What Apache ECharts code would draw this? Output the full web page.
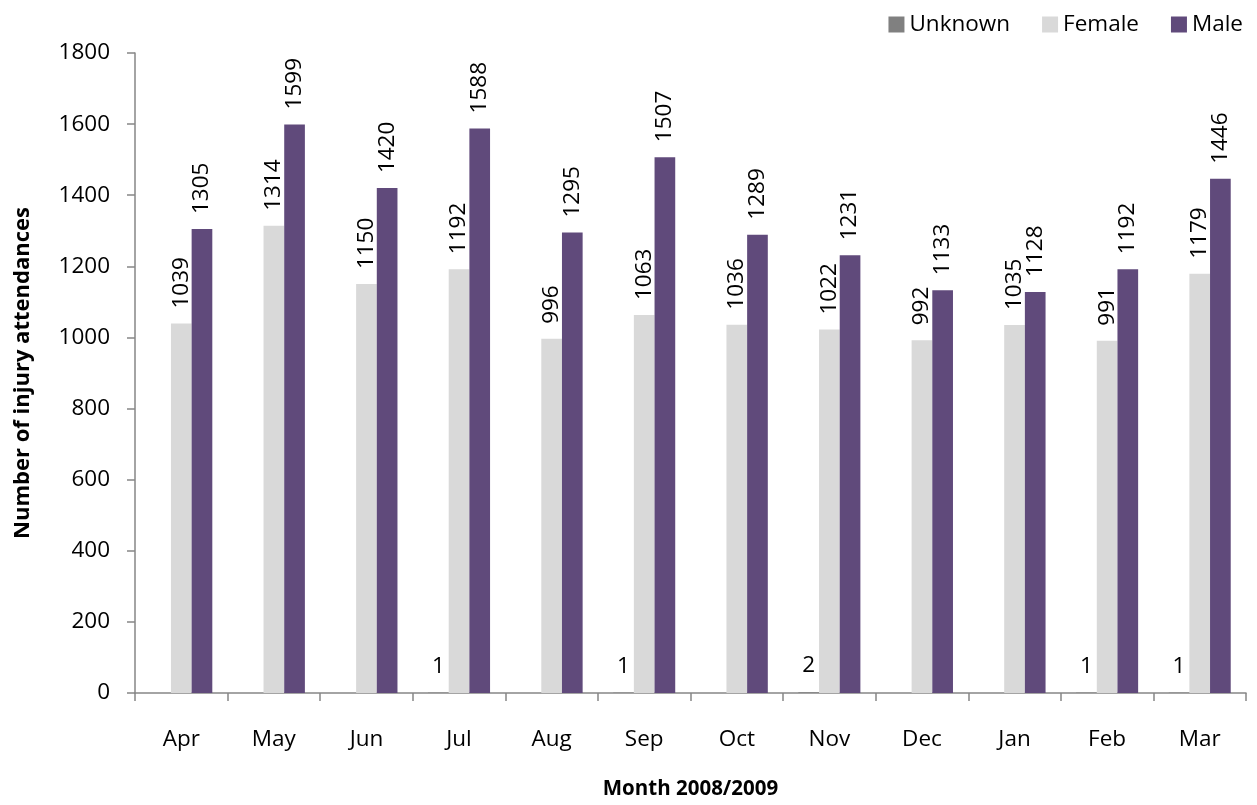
<!DOCTYPE html>
<html>
<head>
<meta charset="utf-8">
<script src="https://cdn.jsdelivr.net/npm/echarts@6/dist/echarts.min.js"></script>
<style>html,body{margin:0;padding:0;background:#fff}#c{width:1257px;height:805px}</style>
</head>
<body>
<div id="c"></div>
<script>
const months = ['Apr','May','Jun','Jul','Aug','Sep','Oct','Nov','Dec','Jan','Feb','Mar'];
const unknownVals = [null,null,null,1,null,1,null,2,null,null,1,1];
const femaleVals = [1039,1314,1150,1192,996,1063,1036,1022,992,1035,991,1179];
const maleVals = [1305,1599,1420,1588,1295,1507,1289,1231,1133,1128,1192,1446];
const yTicks = {min:0, max:1800, interval:200};

const FONT = 'Open Sans';
const FS = 22.5;
const chart = echarts.init(document.getElementById('c'));
const rotLabel = {show:true, position:'top', rotate:90, align:'left', verticalAlign:'middle', distance:15, color:'#000', fontSize:FS, fontFamily:FONT};
chart.setOption({
  animation:false,
  textStyle:{fontFamily:FONT},
  legend:{top:8, right:9, itemWidth:16, itemHeight:16, itemGap:32, icon:'rect',
    textStyle:{fontSize:FS, color:'#000', fontFamily:FONT},
    data:['Unknown','Female','Male']},
  grid:{left:135, right:11, top:53, bottom:109, containLabel:false},
  xAxis:{type:'category', data:months,
    name:'Month 2008/2009', nameLocation:'middle', nameGap:86,
    nameTextStyle:{fontSize:20.5, fontWeight:'bold', color:'#000', fontFamily:FONT},
    axisLine:{lineStyle:{color:'#868686', width:1.5}},
    axisTick:{show:true, length:8, lineStyle:{color:'#868686', width:1.5}},
    axisLabel:{fontSize:FS, color:'#000', margin:35, fontFamily:FONT}},
  yAxis:{type:'value', min:yTicks.min, max:yTicks.max, interval:yTicks.interval,
    name:'Number of injury attendances', nameLocation:'middle', nameGap:101, nameRotate:90,
    nameTextStyle:{fontSize:22, fontWeight:'bold', color:'#000', fontFamily:FONT},
    axisLine:{show:true, lineStyle:{color:'#868686', width:1.5}},
    axisTick:{show:true, length:8, lineStyle:{color:'#868686', width:1.5}},
    splitLine:{show:false},
    axisLabel:{fontSize:FS, color:'#000', margin:25, fontFamily:FONT, formatter:v => String(v)}},
  series:[
    {name:'Unknown', type:'bar', data:unknownVals, barGap:'0%', barCategoryGap:'33%',
      itemStyle:{color:'#808080'},
      label:{show:true, position:'top', distance:15, color:'#000', fontSize:FS, fontFamily:FONT}},
    {name:'Female', type:'bar', data:femaleVals, barGap:'0%', barCategoryGap:'33%',
      itemStyle:{color:'#d9d9d9'}, label:rotLabel},
    {name:'Male', type:'bar', data:maleVals, barGap:'0%', barCategoryGap:'33%',
      itemStyle:{color:'#604a7b'}, label:rotLabel}
  ]
});
</script>
</body>
</html>
